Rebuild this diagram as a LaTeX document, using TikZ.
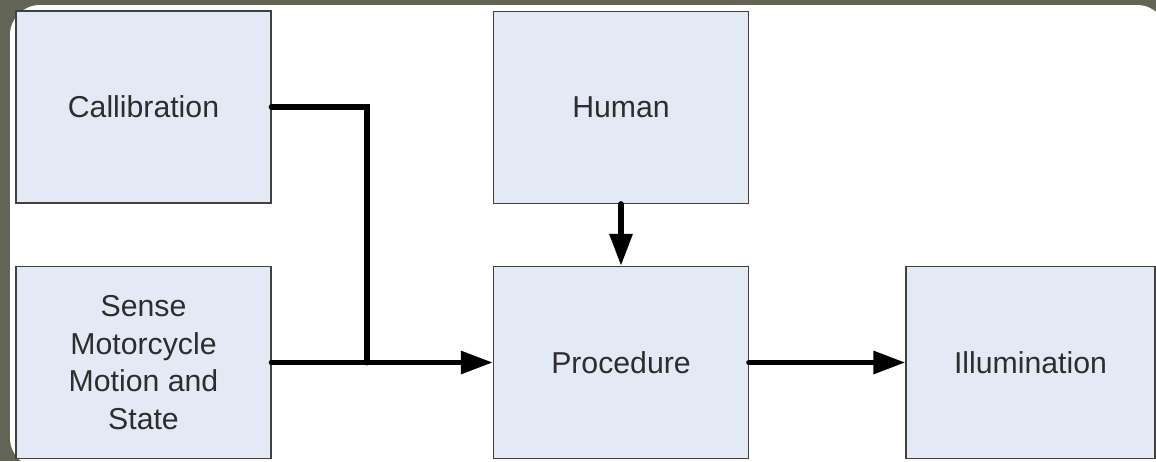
\documentclass[tikz,border=0pt]{standalone}
\usepackage{fontspec}
\setmainfont{Liberation Sans}
\usetikzlibrary{arrows.meta}
\definecolor{slate}{RGB}{98,100,86}
\definecolor{boxfill}{RGB}{228,234,245}
\definecolor{boxline}{RGB}{64,64,64}
\definecolor{txt}{RGB}{45,45,45}

\begin{document}
\begin{tikzpicture}
	[x=0.025cm, y=-0.025cm,
	block/.style={draw=boxline, line width=0.8pt, fill=boxfill, text=txt, minimum width=6.375cm, minimum height=4.8cm, inner sep=0pt, align=center, font=\fontsize{21.5}{26.7}\selectfont},
	link/.style={line width=4.2pt, line cap=round},
	flow/.style={link, -{Triangle[length=0.8cm,width=0.55cm]}}]
	\useasboundingbox (0,0) rectangle (1156,461);
	\fill[slate] (0,0) rectangle (1156,461);
	\fill[white, rounded corners=0.75cm] (10,5) rectangle (1167,468);

	\node[block] (calib) at (143.5,107) {Callibration};
	\node[block] (sense) at (143.5,362.5) {Sense\\Motorcycle\\Motion and\\State};
	\node[block] (human) at (621,107.5) {Human};
	\node[block] (proc) at (621,362.5) {Procedure};
	\node[block, minimum width=6.225cm] (illum) at (1030.5,362.5) {Illumination};
	\coordinate (merge) at (367,362.5);

	\draw[link] (calib.east) -| (merge);
	\draw[flow] (sense.east) -- (proc.west);
	\draw[flow] (human.south) -- (proc.north);
	\draw[flow] (proc.east) -- (illum.west);
\end{tikzpicture}
\end{document}
